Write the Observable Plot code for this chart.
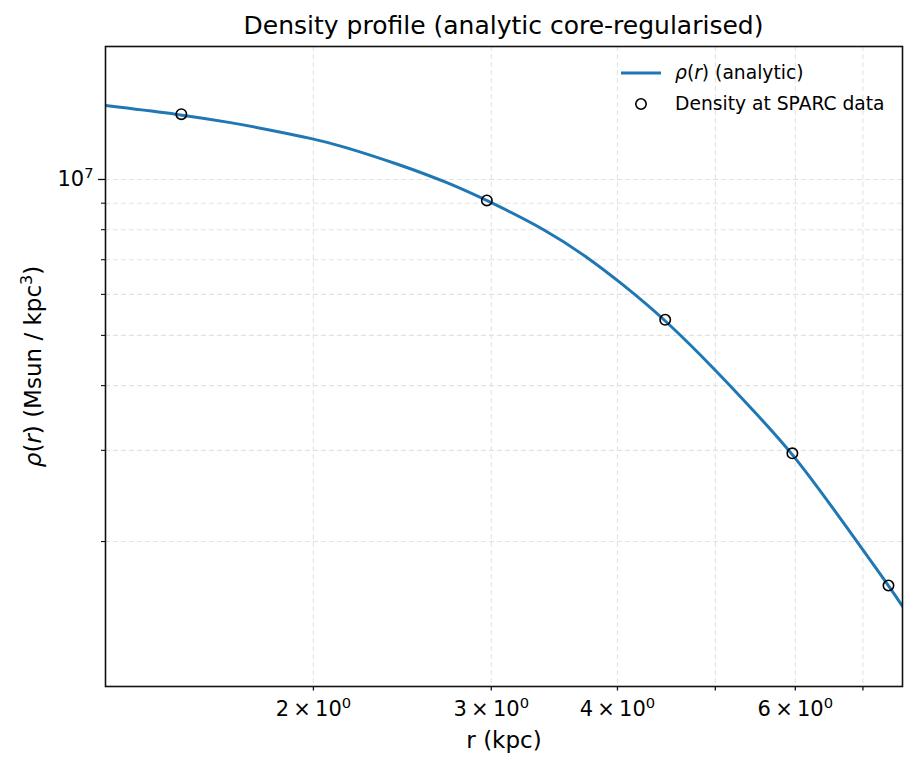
<!DOCTYPE html>
<html><head><meta charset="utf-8">
<script src="https://cdn.jsdelivr.net/npm/d3@7"></script>
<script src="https://cdn.jsdelivr.net/npm/@observablehq/plot@0.6"></script>
<style>
body{margin:0;background:#fff;font-family:"DejaVu Sans",sans-serif;}
#wrap{position:relative;width:917px;height:767px;overflow:hidden;}
#title{position:absolute;left:105px;width:797px;top:0;height:52px;line-height:52px;text-align:center;font-size:25px;color:#000;}
#chart{position:absolute;left:0;top:40px;}
.leg{position:absolute;font-size:18.7px;color:#000;white-space:nowrap;line-height:24px;}
</style></head>
<body>
<div id="wrap">
  <div id="title">Density profile (analytic core-regularised)</div>
  <div id="chart"></div>
  <svg id="legsw" style="position:absolute;left:0;top:0" width="917" height="767"></svg>
  <div class="leg" style="left:675px;top:61px;"><i>ρ</i>(<i>r</i>) (analytic)</div>
  <div class="leg" style="left:675px;top:92px;">Density at SPARC data</div>
</div>
<script>
// Analytic curve
const curveR = [1.245, 1.477, 1.667, 1.801, 2.0, 2.127, 2.439, 2.715, 2.974, 3.409, 3.735, 4.027, 4.463, 5.024, 5.454, 5.961, 6.50, 7.420, 7.661];
const curveRho = [1.389e7, 1.335e7, 1.2855e7, 1.2491e7, 1.198e7, 1.1632e7, 1.0676e7, 9.87e6, 9.11e6, 7.97e6, 7.08e6, 6.33e6, 5.36e6, 4.25e6, 3.58e6, 2.962e6, 2.358e6, 1.645e6, 1.50e6];
// Density at SPARC data points
const dataR = [1.48, 2.97, 4.46, 5.96, 7.42];
const dataRho = [1.337e7, 9.11e6, 5.36e6, 2.96e6, 1.645e6];
// Ticks (label: base ^ exponent)
const xTickValues = [2, 3, 4, 6];
const xTickLabels = ["2\u2009×\u200910^0", "3\u2009×\u200910^0", "4\u2009×\u200910^0", "6\u2009×\u200910^0"];
const xMinorTicks = [5, 7];
const yMajorTicks = [1e7];
const yMajorLabels = ["10^7"];
const yMinorTicks = [2e6, 3e6, 4e6, 5e6, 6e6, 7e6, 8e6, 9e6];

const curve = curveR.map((r, i) => ({r, rho: curveRho[i]}));
const pts = dataR.map((r, i) => ({r, rho: dataRho[i]}));
const xGrid = [...xTickValues, ...xMinorTicks];
const yGrid = [...yMinorTicks, ...yMajorTicks];

const plot = Plot.plot({
  width: 917,
  height: 727,
  marginLeft: 105,
  marginRight: 15,
  marginTop: 6,
  marginBottom: 81,
  style: {fontFamily: "DejaVu Sans, sans-serif", fontSize: "21px", color: "#000", background: "transparent"},
  x: {type: "log", domain: [1.245, 7.661]},
  y: {type: "log", domain: [1.05e6, 1.806e7]},
  marks: [
    Plot.ruleX(xGrid, {x: d => d, stroke: "#e3e3e3", strokeWidth: 1.1, strokeDasharray: "5,3"}),
    Plot.ruleY(yGrid, {y: d => d, stroke: "#e3e3e3", strokeWidth: 1.1, strokeDasharray: "5,3"}),
    Plot.axisX(xGrid, {tickSize: 4.5, tickFormat: () => "", label: null, stroke: "#111", strokeWidth: 1.3}),
    Plot.axisY(yMajorTicks, {tickSize: 7, tickFormat: () => "", label: null, stroke: "#111", strokeWidth: 1.3}),
    Plot.axisY(yMinorTicks, {tickSize: 4, tickFormat: () => "", label: null, stroke: "#111", strokeWidth: 1.1}),
    Plot.text(xTickValues, {x: d => d, frameAnchor: "bottom", dy: 15, lineAnchor: "top", text: d => xTickLabels[xTickValues.indexOf(d)], fontSize: 21, className: "sup"}),
    Plot.text(yMajorTicks, {y: d => d, frameAnchor: "left", dx: -12, textAnchor: "end", lineAnchor: "middle", text: d => yMajorLabels[yMajorTicks.indexOf(d)], fontSize: 21, className: "sup"}),
    Plot.line(curve, {x: "r", y: "rho", stroke: "#1f77b4", strokeWidth: 3, curve: "basis", clip: true}),
    Plot.dot(pts, {x: "r", y: "rho", r: 5.2, stroke: "#000", fill: "none", strokeWidth: 1.6}),
    Plot.frame({stroke: "#111", strokeWidth: 1.6}),
    Plot.text(["r (kpc)"], {frameAnchor: "bottom", dy: 54, text: d => d, fontSize: 23, lineAnchor: "middle"}),
    Plot.text(["ylabel"], {frameAnchor: "left", dx: -72, rotate: -90, textAnchor: "middle", text: d => d, fontSize: 23, lineAnchor: "middle", className: "ylab"})
  ]
});
document.getElementById("chart").appendChild(plot);
const NS = "http://www.w3.org/2000/svg";
// superscripts in tick labels
plot.querySelectorAll(".sup text").forEach(t => {
  const s = t.textContent;
  const [base, exp] = s.split("^");
  t.textContent = "";
  const a = document.createElementNS(NS, "tspan"); a.textContent = base; t.appendChild(a);
  const b = document.createElementNS(NS, "tspan"); b.textContent = exp;
  b.setAttribute("font-size", "14.7"); b.setAttribute("dy", "-8"); t.appendChild(b);
});
// italic parts of the y label
const yl = plot.querySelector(".ylab text");
if (yl) {
  yl.textContent = "";
  const parts = [["ρ", "i"], ["(", ""], ["r", "i"], [") (Msun / kpc", ""], ["3", "s"], [")", "b"]];
  for (const [t, k] of parts) {
    const ts = document.createElementNS(NS, "tspan");
    ts.textContent = t;
    if (k === "i") ts.setAttribute("font-style", "italic");
    if (k === "s") { ts.setAttribute("font-size", "16"); ts.setAttribute("dy", "-9"); }
    if (k === "b") ts.setAttribute("dy", "9");
    yl.appendChild(ts);
  }
}
// legend swatches
const sw = d3.select("#legsw");
sw.append("line").attr("x1", 621).attr("x2", 661).attr("y1", 73).attr("y2", 73).attr("stroke", "#1f77b4").attr("stroke-width", 3);
sw.append("circle").attr("cx", 641).attr("cy", 104).attr("r", 5.2).attr("fill", "none").attr("stroke", "#000").attr("stroke-width", 1.6);
</script>
</body></html>
